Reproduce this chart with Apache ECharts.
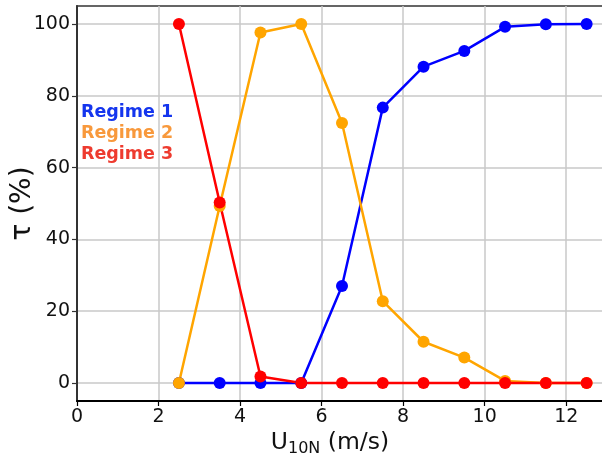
<!DOCTYPE html>
<html>
<head>
<meta charset="utf-8">
<script src="https://cdn.jsdelivr.net/npm/echarts@6/dist/echarts.min.js"></script>
<style>
  html, body { margin: 0; padding: 0; background: #fff; }
  #main { width: 602px; height: 459px; }
</style>
</head>
<body>
<div id="main"></div>
<script>
// wind speed bins (m/s)
var windSpeed = [2.5, 3.5, 4.5, 5.5, 6.5, 7.5, 8.5, 9.5, 10.5, 11.5, 12.5];
// occurrence of each regime (%)
var regime1 = [0, 0, 0, 0, 27, 76.7, 88.1, 92.5, 99.2, 99.9, 100];
var regime2 = [0, 49.3, 97.6, 100, 72.4, 22.8, 11.5, 7.1, 0.6, 0, 0];
var regime3 = [100, 50.3, 1.8, 0, 0, 0, 0, 0, 0, 0, 0];
var regimeNames = ['Regime 1', 'Regime 2', 'Regime 3'];
var xTicks = [0, 2, 4, 6, 8, 10, 12];
var yTicks = [0, 20, 40, 60, 80, 100];

var myChart = echarts.init(document.getElementById('main'));

function pairs(ys) {
  return windSpeed.map(function (x, i) { return [x, ys[i]]; });
}

function lineSeries(name, ys, color) {
  return {
    name: name,
    type: 'line',
    data: pairs(ys),
    symbol: 'circle',
    symbolSize: 12,
    lineStyle: { color: color, width: 2.5 },
    itemStyle: { color: color },
    emphasis: { disabled: true },
    animation: false
  };
}

var font = 'DejaVu Sans';

var option = {
  backgroundColor: '#fff',
  textStyle: { fontFamily: font },
  grid: {
    left: 77, top: 6, right: -5, bottom: 58,
    containLabel: false,
    outerBoundsMode: 'none',
    show: true, borderColor: '#333', borderWidth: 1.5
  },
  legend: {
    left: 76, top: 98,
    orient: 'vertical',
    icon: 'none',
    itemGap: 3,
    itemWidth: 0,
    itemHeight: 15,
    selectedMode: false,
    textStyle: { fontFamily: font, fontWeight: 'bold', fontSize: 17.5, padding: [0, 0, 0, -8] },
    data: [
      { name: regimeNames[0], textStyle: { color: '#1435ee' } },
      { name: regimeNames[1], textStyle: { color: '#f8993c' } },
      { name: regimeNames[2], textStyle: { color: '#ee3b2f' } }
    ]
  },
  xAxis: {
    type: 'value',
    min: 0, max: 13,
    name: '{a|U}{b|10N}{a| (m/s)}',
    nameLocation: 'middle',
    nameGap: 28,
    nameMoveOverlap: false,
    nameTextStyle: {
      padding: [0, 24, 0, 0],
      rich: {
        a: { fontFamily: font, fontSize: 23.5, color: '#111' },
        b: { fontFamily: font, fontSize: 16, color: '#111', padding: [12, 0, 0, 0] }
      }
    },
    axisLine: { show: true, onZero: false, lineStyle: { color: '#000', width: 2 } },
    axisTick: { show: true, length: 5, customValues: xTicks, lineStyle: { color: '#000', width: 1.2 } },
    axisLabel: { fontSize: 19, color: '#111', margin: 7, customValues: xTicks },
    splitLine: { show: true, lineStyle: { color: '#c8c8c8', width: 1.5 } }
  },
  yAxis: {
    type: 'value',
    min: -5, max: 105,
    name: 'τ (%)',
    nameLocation: 'middle',
    nameGap: 40,
    nameMoveOverlap: false,
    nameTextStyle: { fontFamily: font, fontSize: 28, color: '#111' },
    axisLine: { show: true, lineStyle: { color: '#333', width: 2 } },
    axisTick: { show: true, length: 5, customValues: yTicks, lineStyle: { color: '#333', width: 1.2 } },
    axisLabel: { fontSize: 19, color: '#111', margin: 7, customValues: yTicks },
    splitLine: { show: true, lineStyle: { color: '#c8c8c8', width: 1.5 } }
  },
  series: [
    lineSeries(regimeNames[0], regime1, '#0000ff'),
    lineSeries(regimeNames[1], regime2, '#ffa500'),
    lineSeries(regimeNames[2], regime3, '#ff0000')
  ]
};

myChart.setOption(option);
</script>
</body>
</html>
